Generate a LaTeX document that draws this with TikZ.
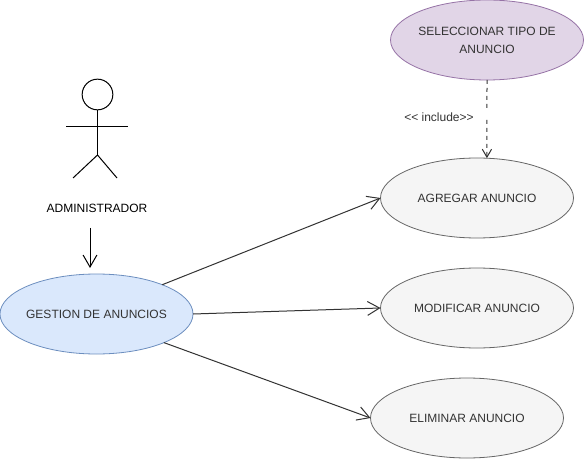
\documentclass[tikz,border=0pt]{standalone}
\usepackage{fontspec}
\setmainfont{Liberation Sans}
\usetikzlibrary{arrows.meta,shapes.geometric}
\definecolor{blueD}{RGB}{108,142,191}
\definecolor{blueF}{RGB}{218,232,252}
\definecolor{purpD}{RGB}{150,115,166}
\definecolor{purpF}{RGB}{225,213,231}
\definecolor{grayD}{RGB}{102,102,102}
\definecolor{grayF}{RGB}{245,245,245}
\definecolor{txt}{RGB}{51,51,51}
\tikzset{
  x=0.75pt,y=-0.75pt,
  uc/.style={ellipse,draw=#1,minimum width=144.75pt,minimum height=60pt,inner xsep=-12pt,inner ysep=0pt,outer sep=0pt,line width=0.6pt,align=center,font=\fontsize{9}{13.5}\selectfont,text=txt},
  conn/.style={draw=txt,line width=0.75pt,-{Straight Barb[length=9pt,width=11pt,angle'=60]}},
  incl/.style={draw=txt,line width=0.75pt,dashed,-{Straight Barb[length=6pt,width=8pt,angle'=60]}},
  lbl/.style={font=\fontsize{9}{11}\selectfont,text=black,inner sep=0pt},
  actor/.style={line width=0.75pt,draw=black}
}
\begin{document}
\begin{tikzpicture}
\useasboundingbox (0,0) rectangle (584,459);
\fill[white] (0,0) rectangle (584,459);
% actor
\node[circle,draw=black,line width=0.75pt,minimum size=23pt,inner sep=0pt] (head) at (97.5,94.5) {};
\coordinate (hip) at (97.5,155);
\coordinate (armL) at (66,127);
\coordinate (armR) at (128,127);
\coordinate (footL) at (73,178);
\coordinate (footR) at (117,178);
\draw[actor] (head.south) -- (hip);
\draw[actor] (armL) -- (armR);
\draw[actor] (footL) -- (hip) -- (footR);
\node[lbl] (admin) at (97,208) {ADMINISTRADOR};
\node[uc=blueD,fill=blueF] (gestion) at (96.5,314) {GESTION DE ANUNCIOS};
\node[uc=purpD,fill=purpF] (sel) at (487,40) {SELECCIONAR TIPO DE\\ANUNCIO};
\node[uc=grayD,fill=grayF] (agr) at (477,198) {AGREGAR ANUNCIO};
\node[uc=grayD,fill=grayF] (mod) at (477,308) {MODIFICAR ANUNCIO};
\node[uc=grayD,fill=grayF] (eli) at (467,418) {ELIMINAR ANUNCIO};
\coordinate (a1) at (90,228);
\coordinate (a2) at (90,268);
\draw[conn,draw=black] (a1) -- (a2);
\draw[conn] (gestion.24) -- (agr.west);
\draw[conn] (gestion.east) -- (mod.west);
\draw[conn] (gestion.-23) -- (eli.west);
\draw[incl] (sel.south) -- (agr.76);
\fill[white] (483,108) rectangle (491,118);
\node[lbl,text=txt] (inc) at (439,117) {{<}{<} include{>}{>}};
\end{tikzpicture}
\end{document}
